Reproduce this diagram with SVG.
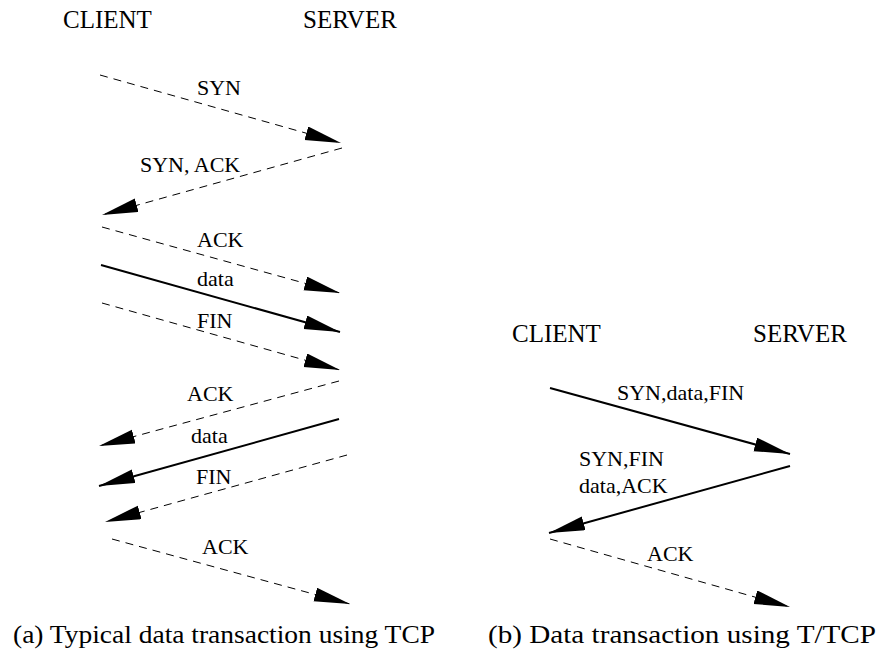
<svg xmlns="http://www.w3.org/2000/svg" width="880" height="654" viewBox="0 0 880 654">
<style>
.hdr{font-size:25px}
.lbl{font-size:22px}
.cap{font-size:26px}
.d{stroke:#000;stroke-width:1;stroke-dasharray:8 6;fill:none}
.s{stroke:#000;stroke-width:2;fill:none}
</style>
<defs>
<marker id="ah" markerUnits="userSpaceOnUse" markerWidth="38" markerHeight="16" refX="36" refY="7" orient="auto" viewBox="0 0 38 16">
<path d="M0,0 L36,7 L0,14 z" fill="#000"/>
</marker>
</defs>
<rect width="880" height="654" fill="#fff"/>
<g font-family="Liberation Serif, DejaVu Serif, serif" fill="#000">
<g id="labels-a">
<text class="hdr" x="63" y="28">CLIENT</text>
<text class="hdr" x="303" y="28">SERVER</text>
</g>
<g id="labels-b">
<text class="hdr" x="512" y="342">CLIENT</text>
<text class="hdr" x="753" y="342">SERVER</text>
</g>
</g>
<g id="connectors">
<line class="d" x1="100" y1="75" x2="341" y2="143" marker-end="url(#ah)"/>
<line class="d" x1="342" y1="148" x2="102" y2="215" marker-end="url(#ah)"/>
<line class="d" x1="102" y1="227" x2="340" y2="293" marker-end="url(#ah)"/>
<line class="s" x1="101" y1="265" x2="340" y2="332" marker-end="url(#ah)"/>
<line class="d" x1="102" y1="303" x2="340" y2="370" marker-end="url(#ah)"/>
<line class="d" x1="339" y1="381" x2="99" y2="446" marker-end="url(#ah)"/>
<line class="s" x1="339" y1="419" x2="99" y2="486" marker-end="url(#ah)"/>
<line class="d" x1="347" y1="455" x2="105" y2="522" marker-end="url(#ah)"/>
<line class="d" x1="112" y1="539" x2="350" y2="604" marker-end="url(#ah)"/>
<line class="s" x1="550" y1="388" x2="790" y2="454" marker-end="url(#ah)"/>
<line class="s" x1="790" y1="466" x2="549" y2="533" marker-end="url(#ah)"/>
<line class="d" x1="550" y1="539" x2="790" y2="607" marker-end="url(#ah)"/>
</g>
<g font-family="Liberation Serif, DejaVu Serif, serif" fill="#000">
<g id="msg-a">
<text class="lbl" x="197" y="95">SYN</text>
<text class="lbl" x="140" y="172">SYN, ACK</text>
<text class="lbl" x="197" y="247">ACK</text>
<text class="lbl" x="197" y="286">data</text>
<text class="lbl" x="197" y="328">FIN</text>
<text class="lbl" x="187" y="401">ACK</text>
<text class="lbl" x="191" y="443">data</text>
<text class="lbl" x="196" y="484">FIN</text>
<text class="lbl" x="202" y="554">ACK</text>
</g>
<g id="msg-b">
<text class="lbl" x="617" y="400">SYN,data,FIN</text>
<text class="lbl" x="579" y="466">SYN,FIN</text>
<text class="lbl" x="579" y="493">data,ACK</text>
<text class="lbl" x="647" y="561">ACK</text>
</g>
<g id="captions">
<text class="cap" x="13" y="643" textLength="422" lengthAdjust="spacingAndGlyphs">(a) Typical data transaction using TCP</text>
<text class="cap" x="488" y="643" textLength="388" lengthAdjust="spacingAndGlyphs">(b) Data transaction using T/TCP</text>
</g>
</g>
</svg>
